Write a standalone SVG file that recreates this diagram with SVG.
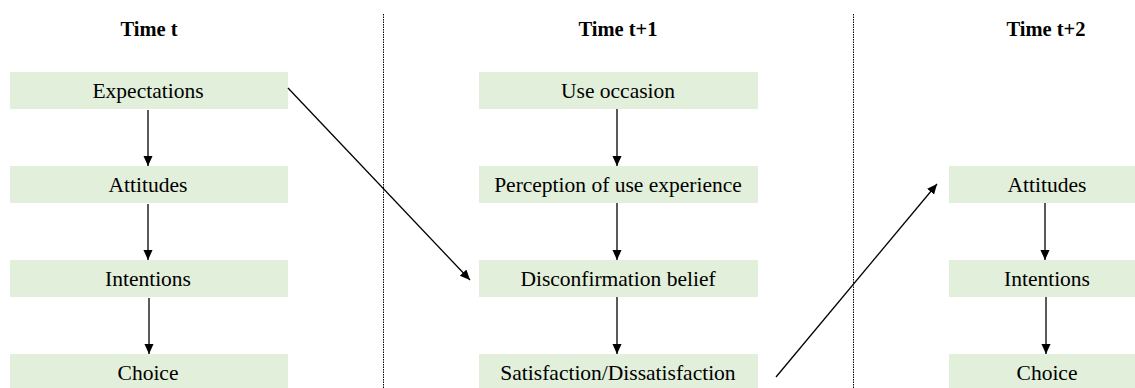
<svg xmlns="http://www.w3.org/2000/svg" width="1135" height="388" viewBox="0 0 1135 388">
  <style>
    .box { fill: #E2EFDA; }
    .label { font-size: 21.5px; fill: #000; text-anchor: middle; }
    .head { font-size: 20.5px; font-weight: bold; fill: #000; text-anchor: middle; }
    .divider { stroke: #000; stroke-width: 1; stroke-dasharray: 1.5 1; fill: none; }
    .link { stroke: #000; stroke-width: 1.3; fill: none; marker-end: url(#head); }
  </style>
  <defs>
    <marker id="head" markerWidth="10" markerHeight="11" refX="11" refY="5" orient="auto" markerUnits="userSpaceOnUse" viewBox="0 0 11 10">
      <path d="M0,0 L11,5 L0,10 Z" fill="#000"/>
    </marker>
  </defs>

  <rect width="1135" height="388" fill="#fff"/>

  <!-- period dividers -->
  <g id="dividers">
    <line class="divider" x1="383.5" y1="14" x2="383.5" y2="388"/>
    <line class="divider" x1="853.5" y1="14" x2="853.5" y2="388"/>
  </g>

  <g font-family="'Liberation Serif', 'DejaVu Serif', serif">
    <!-- period headings -->
    <g id="headings">
      <text class="head" x="149" y="36">Time t</text>
      <text class="head" x="618" y="36">Time t+1</text>
      <text class="head" x="1046" y="36">Time t+2</text>
    </g>

    <!-- time t -->
    <g id="t-expectations"><rect class="box" x="10" y="72" width="278" height="37"/><text class="label" x="148" y="98">Expectations</text></g>
    <g id="t-attitudes"><rect class="box" x="10" y="166" width="278" height="37"/><text class="label" x="148" y="192">Attitudes</text></g>
    <g id="t-intentions"><rect class="box" x="10" y="260" width="278" height="37"/><text class="label" x="148" y="286">Intentions</text></g>
    <g id="t-choice"><rect class="box" x="10" y="354" width="278" height="37"/><text class="label" x="148" y="380">Choice</text></g>

    <!-- time t+1 -->
    <g id="t1-use-occasion"><rect class="box" x="479" y="72" width="279" height="37"/><text class="label" x="618" y="98">Use occasion</text></g>
    <g id="t1-perception"><rect class="box" x="479" y="166" width="279" height="37"/><text class="label" x="618" y="192">Perception of use experience</text></g>
    <g id="t1-disconfirmation"><rect class="box" x="479" y="260" width="279" height="37"/><text class="label" x="618" y="286">Disconfirmation belief</text></g>
    <g id="t1-satisfaction"><rect class="box" x="479" y="354" width="279" height="37"/><text class="label" x="618" y="380">Satisfaction/Dissatisfaction</text></g>

    <!-- time t+2 -->
    <g id="t2-attitudes"><rect class="box" x="949" y="166" width="200" height="37"/><text class="label" x="1047" y="192">Attitudes</text></g>
    <g id="t2-intentions"><rect class="box" x="949" y="260" width="200" height="37"/><text class="label" x="1047" y="286">Intentions</text></g>
    <g id="t2-choice"><rect class="box" x="949" y="354" width="200" height="37"/><text class="label" x="1047" y="380">Choice</text></g>
  </g>

  <!-- connectors -->
  <g id="connectors">
    <line class="link" x1="148" y1="110" x2="148" y2="166"/>
    <line class="link" x1="148" y1="204" x2="148" y2="260"/>
    <line class="link" x1="149" y1="298" x2="149" y2="354"/>

    <line class="link" x1="617" y1="109" x2="617" y2="166"/>
    <line class="link" x1="617" y1="203" x2="617" y2="260"/>
    <line class="link" x1="617" y1="297" x2="617" y2="354"/>

    <line class="link" x1="1045" y1="203" x2="1045" y2="260"/>
    <line class="link" x1="1046" y1="297" x2="1046" y2="354"/>

    <line class="link" x1="288" y1="88" x2="470" y2="280"/>
    <line class="link" x1="776" y1="377" x2="937" y2="184"/>
  </g>
</svg>
